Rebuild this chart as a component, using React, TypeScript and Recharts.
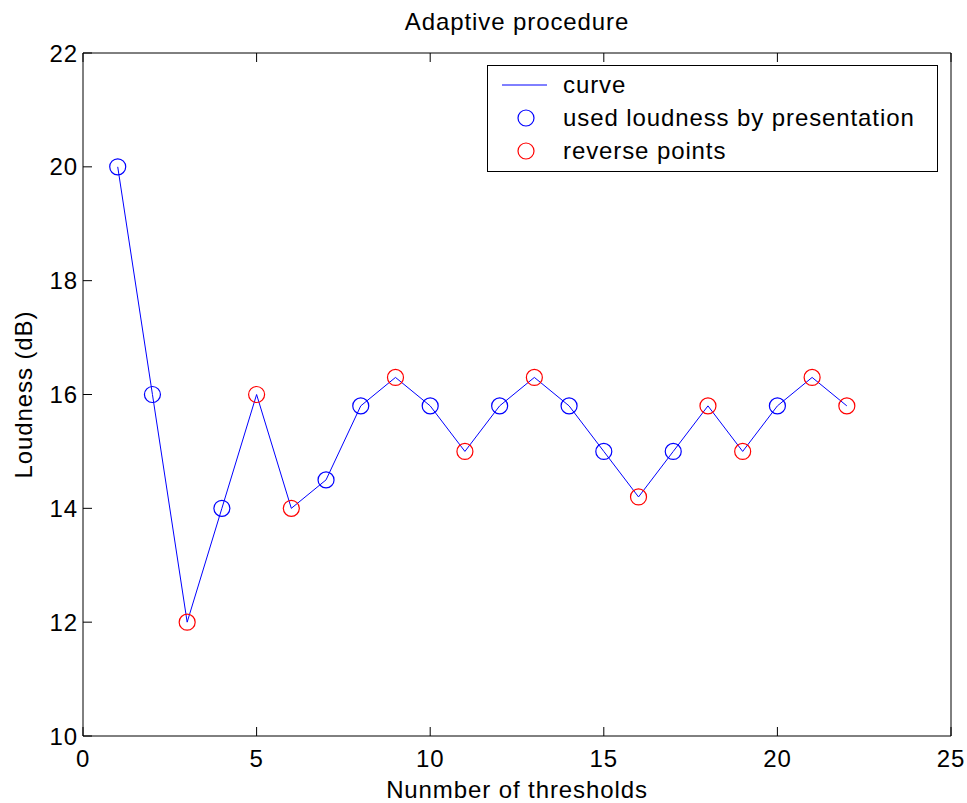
import { ComposedChart, Line, Scatter, XAxis, YAxis, Legend, Label } from 'recharts';

// threshold run: presentation number vs. loudness used
const thresholds = [1, 2, 3, 4, 5, 6, 7, 8, 9, 10, 11, 12, 13, 14, 15, 16, 17, 18, 19, 20, 21, 22];
const loudness = [20, 16, 12, 14, 16, 14, 14.5, 15.8, 16.3, 15.8, 15, 15.8, 16.3, 15.8, 15, 14.2, 15, 15.8, 15, 15.8, 16.3, 15.8];
const reversals = [3, 5, 6, 9, 11, 13, 16, 18, 19, 21, 22];

const xTicks = [0, 5, 10, 15, 20, 25];
const yTicks = [10, 12, 14, 16, 18, 20, 22];

const seriesNames = ['curve', 'used loudness by presentation', 'reverse points'];

const FONT = '"Liberation Sans", Arial, Helvetica, sans-serif';
const FS = 24;
const LS = 0.9;
const TICK_LEN = 9;

const curveRows = thresholds.map((n, i) => ({ n, dB: loudness[i] }));
const usedRows = curveRows.filter((r) => !reversals.includes(r.n));
const reverseRows = curveRows.filter((r) => reversals.includes(r.n));

const BottomTick = (props: any) => {
  const { x, y, payload } = props;
  return (
    <g>
      <line x1={x} y1={y} x2={x} y2={y - TICK_LEN} stroke="#000" />
      <text x={x} y={y + 31} textAnchor="middle" fontSize={FS} fontFamily={FONT} letterSpacing={LS} fill="#000">
        {payload.value}
      </text>
    </g>
  );
};

const TopTick = (props: any) => {
  const { x, y } = props;
  return <line x1={x} y1={y} x2={x} y2={y + TICK_LEN} stroke="#000" />;
};

const LeftTick = (props: any) => {
  const { x, y, payload } = props;
  return (
    <g>
      <line x1={x} y1={y} x2={x + TICK_LEN} y2={y} stroke="#000" />
      <text x={x - 5} y={y + 8.5} textAnchor="end" fontSize={FS} fontFamily={FONT} letterSpacing={LS} fill="#000">
        {payload.value}
      </text>
    </g>
  );
};

const RightTick = (props: any) => {
  const { x, y } = props;
  return <line x1={x} y1={y} x2={x - TICK_LEN} y2={y} stroke="#000" />;
};

const Ring = (props: any) => (
  <circle cx={props.cx} cy={props.cy} r={8} fill="none" stroke={props.fill} strokeWidth={1.2} />
);

const LegendBox = (props: any) => {
  const items = [...(props.payload || [])].sort(
    (a: any, b: any) => seriesNames.indexOf(a.value) - seriesNames.indexOf(b.value)
  );
  return (
    <svg width={451} height={107} style={{ display: 'block' }}>
      <rect x={0.5} y={0.5} width={450} height={106} fill="#fff" stroke="#000" />
      {items.map((item: any, i: number) => {
        const cy = 20 + i * 33;
        return (
          <g key={item.value}>
            {item.type === 'line' ? (
              <line x1={15} y1={cy} x2={60} y2={cy} stroke={item.color} />
            ) : (
              <circle cx={39} cy={cy} r={8} fill="none" stroke={item.color} strokeWidth={1.2} />
            )}
            <text x={76} y={cy + 7.5} fontSize={FS} fontFamily={FONT} letterSpacing={LS} fill="#000">
              {item.value}
            </text>
          </g>
        );
      })}
    </svg>
  );
};

export default function App() {
  return (
    <div style={{ position: 'absolute', left: 0, top: 0, width: 967, height: 803, background: '#fff' }}>
      <ComposedChart width={967} height={803} data={curveRows} margin={{ top: 0, right: 0, bottom: 0, left: 0 }}>
        <XAxis
          dataKey="n"
          type="number"
          domain={[0, 25]}
          ticks={xTicks}
          interval={0}
          height={67}
          tickSize={0}
          tickMargin={0}
          tickLine={false}
          tick={<BottomTick />}
          axisLine={{ stroke: '#000' }}
        >
          <Label
            value="Nunmber of thresholds"
            position="insideBottom"
            offset={5}
            fontSize={FS}
            fontFamily={FONT}
            letterSpacing={LS}
            fill="#000"
          />
        </XAxis>
        <XAxis
          xAxisId="top"
          orientation="top"
          dataKey="n"
          type="number"
          domain={[0, 25]}
          ticks={xTicks}
          interval={0}
          height={53}
          tickSize={0}
          tickMargin={0}
          tickLine={false}
          tick={<TopTick />}
          axisLine={{ stroke: '#000' }}
        >
          <Label
            value="Adaptive procedure"
            position="insideTop"
            offset={13}
            fontSize={FS}
            fontFamily={FONT}
            letterSpacing={LS}
            fill="#000"
          />
        </XAxis>
        <YAxis
          type="number"
          domain={[10, 22]}
          ticks={yTicks}
          interval={0}
          width={83}
          tickSize={0}
          tickMargin={0}
          tickLine={false}
          tick={<LeftTick />}
          axisLine={{ stroke: '#000' }}
        >
          <Label
            value="Loudness (dB)"
            angle={-90}
            position="insideLeft"
            offset={23}
            fontSize={FS}
            fontFamily={FONT}
            letterSpacing={LS}
            fill="#000"
            style={{ textAnchor: 'middle' }}
          />
        </YAxis>
        <YAxis
          yAxisId="right"
          orientation="right"
          type="number"
          domain={[10, 22]}
          ticks={yTicks}
          interval={0}
          width={16}
          tickSize={0}
          tickMargin={0}
          tickLine={false}
          tick={<RightTick />}
          axisLine={{ stroke: '#000' }}
        />
        <Legend
          layout="horizontal"
          verticalAlign="middle"
          align="center"
          content={<LegendBox />}
          wrapperStyle={{ left: 487, top: 65, width: 451, height: 107 }}
        />
        <Line
          type="linear"
          dataKey="dB"
          name="curve"
          stroke="#0000ff"
          strokeWidth={1}
          dot={false}
          activeDot={false}
          legendType="line"
          isAnimationActive={false}
        />
        <Scatter
          data={usedRows}
          dataKey="dB"
          name="used loudness by presentation"
          fill="#0000ff"
          shape={<Ring />}
          legendType="circle"
          isAnimationActive={false}
        />
        <Scatter
          data={reverseRows}
          dataKey="dB"
          name="reverse points"
          fill="#ff0000"
          shape={<Ring />}
          legendType="circle"
          isAnimationActive={false}
        />
      </ComposedChart>
    </div>
  );
}
